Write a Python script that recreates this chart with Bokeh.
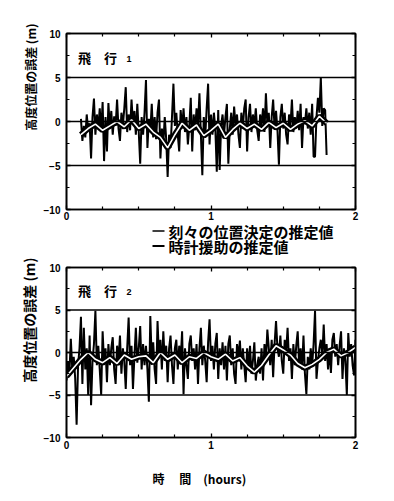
from bokeh.plotting import figure
from bokeh.models import (Range1d, Span, Label, FixedTicker, LinearAxis, Title)
from bokeh.core.properties import value
from bokeh.layouts import column
from bokeh.embed import file_html
from bokeh.resources import INLINE

# ---------------- data ----------------
# Flight 1 : instantaneous position fixes (every 0.01 h from 0.10 h)
f1_fix_start = 0.10
f1_fix = [
    0.3, -2.2, -0.5, -1.8, 0.8, -1.0, -0.2, -4.2, 0.5, 2.6,
    -1.5, 0.8, -0.8, 1.5, -1.2, 2.2, -4.5, 0.5, -3.4, 2.1,
    -0.8, 1.2, -1.5, 0.6, -0.5, 2.5, -0.8, -2.2, 1.0, -0.5,
    1.5, 3.9, -1.2, 0.8, -1.0, 2.5, -0.3, 1.2, -1.5, 2.0,
    -1.2, -4.8, 0.5, -1.5, 1.0, 4.7, -3.0, 0.3, -1.2, 2.0,
    -1.8, 0.5, -2.0, 1.0, 2.5, -4.2, -0.8, -2.5, 0.5, -2.0,
    -6.3, -1.5, -3.0, 0.5, 4.3, -0.5, 1.0, -1.5, -3.4, 1.3,
    -0.8, 1.5, -1.2, 0.5, -2.6, -0.5, 2.7, -3.4, 0.8, -1.0,
    1.5, -0.5, 3.2, -1.5, -6.1, 0.5, -1.8, 1.5, 4.3, -2.6,
    0.8, -1.5, 1.0, -0.8, -5.7, 1.3, -5.5, -0.5, 0.8, -1.5,
    0.5, 2.0, -4.8, -0.8, 1.0, -1.5, 1.7, -0.5, 0.8, -1.5,
    -3.0, 1.0, -0.8, 1.5, 2.5, -3.4, 0.5, 2.0, -1.2, 0.8,
    -0.5, 1.5, -1.0, -2.2, 0.8, -0.5, 1.5, -1.2, 3.2, -0.3,
    1.0, -3.0, 0.5, 2.5, -0.8, 1.2, -1.0, -4.9, 0.5, 2.0,
    -0.8, 1.0, -1.5, -2.6, 0.8, -0.5, 2.5, -1.2, 0.5, -0.8,
    1.2, -1.0, 2.0, -3.0, 0.5, -0.3, 1.5, -0.8, 1.0, -1.5,
    2.0, -4.0, -4.0, 0.5, 2.7, 1.0, 5.0, -0.5, 1.5, 1.3,
    -3.8,
]
# Flight 1 : clock-aided estimate (every 0.05 h from 0.10 h)
f1_clk_start = 0.10
f1_clk = [
    -1.5, -0.8, -0.3, -1.0, -0.5, 0.0, -0.6, 0.2, -0.8, -0.3,
    -1.2, -1.8, -3.0, -1.5, -0.2, -1.0, -0.4, -1.6, -1.0, -0.3,
    -1.8, -0.9, -0.2, -0.8, -0.3, -0.9, -0.1, -0.7, -0.2, -0.9,
    -0.3, 0.1, -0.5, 0.6, -0.2,
]

# Flight 2 : instantaneous position fixes (every 0.01 h from 0.00 h)
f2_fix_start = 0.0
f2_fix = [
    -3.3, -1.0, -2.5, 1.6, -2.0, -0.5, -3.0, -8.5, -1.5, 0.5,
    4.2, -3.7, 2.9, -2.0, 0.5, -5.0, 2.0, -6.2, -1.0, 1.0,
    4.9, -1.5, 0.8, -2.0, -5.0, 2.5, -1.2, 0.5, -3.5, 1.0,
    -1.5, 0.5, 1.8, -2.0, -3.7, 0.8, -1.0, 2.0, -2.5, 0.5,
    -1.0, -4.3, 0.5, 4.1, -1.5, 0.8, -4.3, -0.5, 2.9, -1.2,
    0.5, 3.1, -2.0, 1.0, -1.5, 0.8, -2.0, -5.8, 4.3, -1.0,
    1.2, -2.0, -3.7, 3.7, -0.5, 1.5, -2.0, 2.5, -1.0, 0.8,
    -3.5, 0.5, 2.0, -1.5, -3.7, 0.5, 1.5, -2.0, 0.8, -1.0,
    2.5, -4.9, 0.5, -1.5, -3.1, 1.0, 2.0, -1.0, 0.5, -2.0,
    1.0, -3.7, 0.5, 2.9, -1.5, 0.8, -1.0, -3.5, 1.2, 3.9,
    -1.0, 0.8, -2.0, 1.0, 2.3, -3.1, 0.5, -1.5, 1.2, -2.0,
    0.8, -3.3, 1.0, 2.0, -1.5, 0.5, -2.5, -3.7, 1.0, -0.5,
    1.4, -2.0, 0.5, -1.5, -3.5, 0.5, -2.0, 0.8, -2.5, -1.0,
    1.2, -3.3, -1.5, -0.5, -2.5, 0.5, -3.3, 1.0, -1.0, 2.7,
    0.5, -1.5, 1.5, -2.9, 1.0, 3.7, 0.5, -0.5, 2.0, -1.0,
    -2.5, 1.5, 0.0, 2.9, -1.0, 0.5, -3.1, 1.0, -1.5, 0.8,
    2.5, -1.5, 0.5, -2.0, 2.0, -2.5, -4.9, -0.5, -2.0, 0.5,
    -1.5, 1.0, 4.9, -3.1, -1.0, 0.5, 1.5, -0.5, 3.3, -1.0,
    1.0, -2.0, 0.5, -2.4, 1.5, 2.3, -0.5, 1.0, -1.5, 0.8,
    2.5, -3.1, 0.5, -1.0, -5.0, 2.3, -0.5, 1.0, -1.5, -2.7,
    1.5,
]
# Flight 2 : clock-aided estimate (every 0.05 h from 0.00 h)
f2_clk_start = 0.0
f2_clk = [
    -2.8, -1.8, -0.8, 0.0, -0.8, -1.2, -0.6, -1.3, -0.3, -0.8,
    -0.5, -0.4, -1.2, 0.0, -0.8, -0.3, -1.2, -0.5, -0.7, 0.0,
    -0.5, -0.8, -0.2, -1.0, -0.6, -1.6, -2.3, -1.5, -0.3, 0.8,
    0.3, -0.3, -1.3, -1.8, -1.4, -0.8, 0.0, 0.4, -0.4, 0.0,
    0.6,
]

y_ticks = [-10, -5, 0, 5, 10]
y_minor = [-7.5, -2.5, 2.5, 7.5]
x_ticks = [0, 1, 2]
x_minor = [0.25, 0.5, 0.75, 1.25, 1.5, 1.75]
ref_lines = [-5, 0, 5]

y_label = "高度位置の誤差 (m)"
x_label = "時　 間　(hours)"
legend_labels = ["刻々の位置決定の推定値", "時計援助の推定値"]
panel_titles = ["飛　行", "飛　行"]
panel_nums = ["1", "2"]

JP = "Noto Sans CJK JP"
NUM = "Liberation Sans"


def times(start, n, step):
    return [round(start + i * step, 4) for i in range(n)]


def style_axis(ax, ticks, show_labels=True):
    ax.axis_line_width = 1.6
    ax.axis_line_color = "black"
    ax.major_tick_in = 4
    ax.major_tick_out = 0
    ax.minor_tick_in = 3
    ax.minor_tick_out = 0
    ax.major_tick_line_width = 1.3
    ax.minor_tick_line_width = 1.2
    ax.major_label_text_font = NUM
    ax.major_label_text_font_style = "bold"
    ax.major_label_text_font_size = "10px"
    ax.major_label_text_color = "black"
    if not show_labels:
        ax.major_label_overrides = {t: "" for t in ticks}
        ax.major_label_standoff = 0


def make_panel(idx, fix_start, fix, clk_start, clk, frame_h, top_border,
               ylab_size, x_standoff):
    p = figure(frame_width=289, frame_height=frame_h,
               x_range=Range1d(0, 2), y_range=Range1d(-10, 10),
               output_backend="svg", toolbar_location=None,
               min_border_left=66, min_border_right=30,
               min_border_top=top_border, min_border_bottom=0,
               x_axis_location=None, y_axis_location=None)
    p.grid.visible = False
    p.outline_line_color = "black"
    p.outline_line_width = 1.6
    p.background_fill_color = "white"
    p.border_fill_color = "white"

    xb = LinearAxis(ticker=FixedTicker(ticks=x_ticks, minor_ticks=x_minor))
    style_axis(xb, x_ticks)
    xb.major_label_standoff = x_standoff
    p.add_layout(xb, "below")

    yl = LinearAxis(ticker=FixedTicker(ticks=y_ticks, minor_ticks=y_minor))
    style_axis(yl, y_ticks)
    yl.major_label_standoff = 6
    p.add_layout(yl, "left")

    xt = LinearAxis(ticker=FixedTicker(ticks=x_ticks, minor_ticks=x_minor))
    style_axis(xt, x_ticks, show_labels=False)
    p.add_layout(xt, "above")
    yr = LinearAxis(ticker=FixedTicker(ticks=y_ticks, minor_ticks=y_minor))
    style_axis(yr, y_ticks, show_labels=False)
    p.add_layout(yr, "right")

    t = Title(text=y_label, text_font=JP, text_font_style="bold",
              text_font_size=ylab_size, text_color="black",
              align="right", standoff=4, offset=-10)
    p.add_layout(t, "left")

    for v in ref_lines:
        p.add_layout(Span(location=v, dimension="width", line_color="black",
                          line_width=1.3))

    tf = times(fix_start, len(fix), 0.01)
    tc = times(clk_start, len(clk), 0.05)
    p.line(tf, fix, line_color="black", line_width=2.0)
    p.line(tc, clk, line_color="black", line_width=6)
    p.line(tc, clk, line_color="white", line_width=1.6)

    p.add_layout(Label(x=0.08, y=7.3, text=panel_titles[idx], text_font=JP,
                       text_font_style="bold", text_font_size="13px",
                       text_color="black", text_baseline="middle"))
    p.add_layout(Label(x=0.415, y=7.1, text=panel_nums[idx], text_font=NUM,
                       text_font_style="bold", text_font_size="9px",
                       text_color="black", text_baseline="middle"))
    return p


p1 = make_panel(0, f1_fix_start, f1_fix, f1_clk_start, f1_clk, 176, 33, "12px", 2)
p2 = make_panel(1, f2_fix_start, f2_fix, f2_clk_start, f2_clk, 170, 12, "14px", 3)

# x axis caption of the second panel
p2.add_layout(Title(text=x_label, text_font=JP, text_font_style="bold",
                    text_font_size="12px", text_color="black",
                    align="left", offset=86, standoff=33), "below")

# legend strip between the two panels (page-pixel coordinates, y downward)
pl = figure(frame_width=289, frame_height=33,
            x_range=Range1d(66, 355), y_range=Range1d(33, 0),
            output_backend="svg", toolbar_location=None,
            min_border_left=66, min_border_right=30,
            min_border_top=0, min_border_bottom=0,
            x_axis_location=None, y_axis_location=None)
pl.grid.visible = False
pl.outline_line_color = None
leg_rows = [8.5, 23.5]
pl.segment(x0=[152, 152], y0=leg_rows, x1=[164, 164], y1=leg_rows,
           line_color="black", line_width=[1.6, 2.2])
pl.text(x=[168, 168], y=leg_rows, text=legend_labels,
        text_font=value(JP), text_font_style="bold", text_font_size="15px",
        text_color="black", text_baseline="middle", text_align="left")

layout = column(p1, pl, p2, spacing=0)
open("out.html", "w").write(file_html(layout, INLINE))
